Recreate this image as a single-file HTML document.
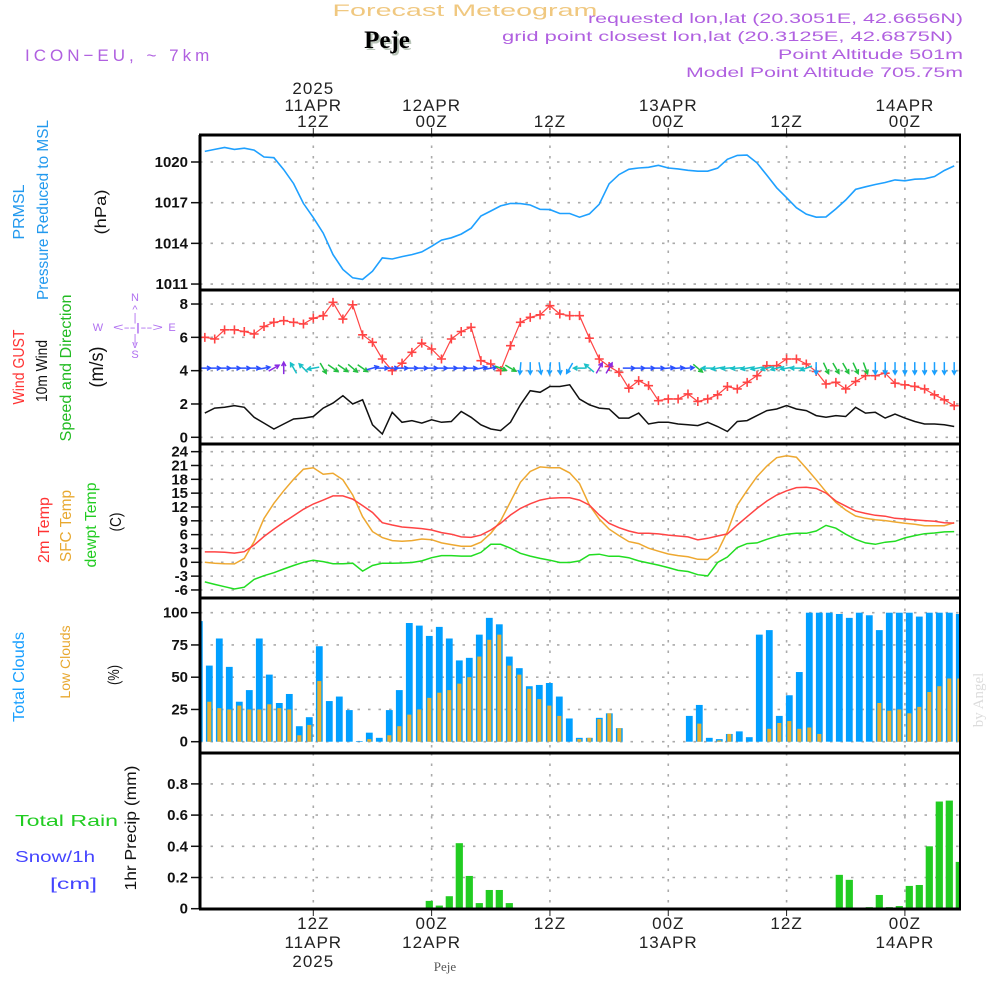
<!DOCTYPE html>
<html><head><meta charset="utf-8">
<style>
html,body{margin:0;padding:0;background:#fff;}
svg{display:block;font-family:"Liberation Sans",sans-serif;}
.tk{font-size:15px;font-weight:bold;fill:#111;text-anchor:end;}
.tl{font-size:17px;fill:#222;text-anchor:middle;letter-spacing:1px;}
.rl{font-size:16px;text-anchor:middle;}
</style></head>
<body>
<svg id="chart" width="1000" height="1000" viewBox="0 0 1000 1000">
<defs>
<clipPath id="plotclip"><rect x="201" y="135" width="758" height="775"/></clipPath>
</defs>
<text x="465" y="16" text-anchor="middle" font-size="17" fill="#f0c880" textLength="265" lengthAdjust="spacingAndGlyphs">Forecast Meteogram</text>
<text x="389" y="50" text-anchor="middle" font-family="Liberation Serif,serif" font-weight="bold" font-size="25" fill="#b8c4b8">Peje</text>
<text x="387" y="48" text-anchor="middle" font-family="Liberation Serif,serif" font-weight="bold" font-size="25" fill="#000">Peje</text>
<text x="25" y="61" font-size="17" fill="#b060e0" letter-spacing="4">ICON−EU, ~ 7km</text>
<g font-size="14" fill="#b060e0" text-anchor="end">
<text x="963" y="23" textLength="375" lengthAdjust="spacingAndGlyphs">requested lon,lat (20.3051E, 42.6656N)</text>
<text x="953" y="41" textLength="451" lengthAdjust="spacingAndGlyphs">grid point closest lon,lat (20.3125E, 42.6875N)</text>
<text x="963" y="59" textLength="185" lengthAdjust="spacingAndGlyphs">Point Altitude 501m</text>
<text x="963" y="77" textLength="277" lengthAdjust="spacingAndGlyphs">Model Point Altitude 705.75m</text>
</g>
<g class="rl">
<text transform="translate(24,212) rotate(-90)" fill="#2299ee" textLength="55" lengthAdjust="spacingAndGlyphs">PRMSL</text>
<text transform="translate(48,210) rotate(-90)" fill="#2299ee" textLength="180" lengthAdjust="spacingAndGlyphs">Pressure Reduced to MSL</text>
<text transform="translate(106,212) rotate(-90)" fill="#111" textLength="45" lengthAdjust="spacingAndGlyphs">(hPa)</text>
<text transform="translate(24,367) rotate(-90)" fill="#ff3333" textLength="75" lengthAdjust="spacingAndGlyphs">Wind GUST</text>
<text transform="translate(47,371) rotate(-90)" fill="#111" textLength="62" lengthAdjust="spacingAndGlyphs">10m Wind</text>
<text transform="translate(71,368) rotate(-90)" fill="#22bb22" textLength="147" lengthAdjust="spacingAndGlyphs">Speed and Direction</text>
<text transform="translate(103,367) rotate(-90)" fill="#111" font-size="19" textLength="41" lengthAdjust="spacingAndGlyphs">(m/s)</text>
<text transform="translate(49,530) rotate(-90)" fill="#ff3333" textLength="66" lengthAdjust="spacingAndGlyphs">2m Temp</text>
<text transform="translate(71,526) rotate(-90)" fill="#e8a830" textLength="72" lengthAdjust="spacingAndGlyphs">SFC Temp</text>
<text transform="translate(96,525) rotate(-90)" fill="#22cc22" textLength="85" lengthAdjust="spacingAndGlyphs">dewpt Temp</text>
<text transform="translate(121,522) rotate(-90)" fill="#111" textLength="19" lengthAdjust="spacingAndGlyphs">(C)</text>
<text transform="translate(24,677) rotate(-90)" fill="#1aa0ff" textLength="90" lengthAdjust="spacingAndGlyphs">Total Clouds</text>
<text transform="translate(70,662) rotate(-90)" fill="#e8a830" style="font-size:14px">Low Clouds</text>
<text transform="translate(119,675) rotate(-90)" fill="#111" textLength="20" lengthAdjust="spacingAndGlyphs">(%)</text>
<text transform="translate(136,828) rotate(-90)" fill="#111" textLength="125" lengthAdjust="spacingAndGlyphs">1hr Precip (mm)</text>
</g>
<text x="15" y="826" font-size="16" fill="#22cc22" textLength="103" lengthAdjust="spacingAndGlyphs">Total  Rain</text>
<text x="15" y="862" font-size="16" fill="#4444ff" textLength="80" lengthAdjust="spacingAndGlyphs">Snow/1h</text>
<text x="50" y="889" font-size="16" fill="#4444ff" textLength="47" lengthAdjust="spacingAndGlyphs">[cm]</text>
<g font-size="11" fill="#b070f0" text-anchor="middle">
<text x="135" y="301">N</text><text x="135" y="313">^</text><text x="135" y="321">|</text>
<text x="98" y="331">W</text><text x="138" y="331" textLength="50" lengthAdjust="spacingAndGlyphs">&lt;--|--&gt;</text><text x="172" y="331">E</text>
<text x="135" y="342">|</text><text x="135" y="348">v</text><text x="135" y="358">S</text>
</g>
<text transform="translate(983,700) rotate(-90)" text-anchor="middle" font-family="Liberation Serif,serif" font-size="15" fill="#dcdcdc">by Angel</text>
<text x="445" y="971" text-anchor="middle" font-family="Liberation Serif,serif" font-size="13" fill="#555">Peje</text>
<g id="dyn"></g>
</svg>
<script>
const startHour = -11;
const pressure = [1020.78,1020.93,1021.07,1020.93,1021.02,1020.88,1020.37,1020.32,1019.44,1018.41,1016.95,1015.9,1014.76,1013.17,1012.07,1011.46,1011.34,1011.95,1012.93,1012.85,1013.02,1013.17,1013.37,1013.78,1014.24,1014.41,1014.68,1015.12,1016.02,1016.39,1016.76,1016.95,1016.93,1016.83,1016.51,1016.49,1016.2,1016.2,1015.93,1016.17,1016.88,1018.39,1019.07,1019.46,1019.56,1019.61,1019.76,1019.56,1019.49,1019.39,1019.32,1019.32,1019.54,1020.2,1020.49,1020.51,1019.93,1019.02,1018.1,1017.37,1016.63,1016.15,1015.93,1015.95,1016.54,1017.2,1017.98,1018.17,1018.34,1018.49,1018.68,1018.61,1018.73,1018.76,1018.93,1019.37,1019.71];
const gust = [6.0,5.9,6.45,6.45,6.35,6.2,6.65,6.9,7.0,6.9,6.8,7.15,7.3,8.1,7.1,7.95,6.15,5.7,4.7,4.0,4.45,5.1,5.65,5.3,4.7,5.9,6.35,6.6,4.6,4.4,4.0,5.5,6.9,7.2,7.35,7.9,7.4,7.3,7.3,5.95,4.7,4.25,3.9,2.95,3.4,3.1,2.2,2.3,2.3,2.6,2.15,2.3,2.55,3.05,2.9,3.3,3.7,4.3,4.3,4.7,4.7,4.4,3.95,3.2,3.3,2.9,3.35,3.7,3.7,3.85,3.25,3.15,3.05,2.9,2.55,2.25,1.9];
const windSpeed = [1.45,1.75,1.8,1.9,1.8,1.2,0.85,0.5,0.8,1.1,1.15,1.25,1.75,2.05,2.5,2.0,2.25,0.75,0.2,1.5,0.9,1.0,0.85,1.05,0.9,0.95,1.55,1.2,0.75,0.5,0.4,0.9,1.95,2.8,2.7,3.05,3.05,3.15,2.3,1.95,1.75,1.7,1.15,1.15,1.45,0.8,0.9,0.9,0.8,0.75,0.7,0.9,0.65,0.35,0.95,1.0,1.3,1.6,1.7,1.9,1.7,1.6,1.3,1.2,1.3,1.25,1.8,1.45,1.5,1.15,1.4,1.15,0.95,0.8,0.8,0.75,0.65];
const windDir = [0,0,0,0,0,0,-10,-30,-90,-120,-135,170,60,35,35,40,35,-15,0,0,0,0,0,0,0,0,0,0,-10,-10,20,30,95,90,80,95,85,120,180,-140,-60,-60,null,0,0,0,0,-5,-5,-5,40,180,170,175,175,170,170,165,165,170,180,160,90,65,60,60,65,70,90,90,90,90,90,90,90,90,90];
const temp2m = [2.25,2.25,2.2,2.0,2.3,3.75,5.6,7.2,8.7,10.1,11.5,12.65,13.5,14.4,14.4,13.7,12.3,10.8,8.6,8.1,7.65,7.5,7.3,7.0,6.45,6.1,5.5,5.4,5.9,7.0,8.45,10.25,11.7,12.7,13.5,13.9,14.0,14.0,13.5,12.4,10.25,8.45,7.5,6.8,6.3,6.3,6.15,5.9,5.7,5.5,4.85,5.2,5.7,6.15,8.1,9.9,11.7,13.3,14.6,15.5,16.2,16.3,16.0,15.0,13.3,12.2,11.1,10.6,10.2,10.0,9.55,9.4,9.2,9.05,8.9,8.6,8.5];
const tempSfc = [0,-0.2,-0.3,-0.35,0.85,4.5,9.5,12.8,15.5,18,20.2,20.5,19.1,19.3,17.9,14.6,9.9,6.65,5.35,4.7,4.55,4.7,5.05,4.9,4.2,3.85,3.5,3.5,4.35,6.3,9.0,13.15,17.35,19.7,20.7,20.5,20.5,19.4,17.1,12.4,9.4,7.2,5.8,4.5,4.05,3.05,2.4,1.8,1.45,1.2,0.65,0.6,2.3,6.65,12.4,15.6,18.6,20.9,22.7,23.1,22.8,20.4,17.9,15.3,13.0,11.35,10.05,9.55,9.25,9.05,8.75,8.45,8.25,7.95,7.95,7.95,8.6];
const dewpt = [-4.25,-4.8,-5.3,-5.8,-5.4,-3.7,-2.9,-2.25,-1.45,-0.7,0,0.45,0.15,-0.3,-0.3,-0.2,-1.9,-0.7,-0.2,-0.2,-0.15,-0.05,0.3,1.0,1.45,1.45,1.35,1.35,2.15,3.9,3.9,3.05,1.95,1.35,0.85,0.45,-0.05,-0.05,0.3,1.6,1.75,1.3,1.3,1.0,0.3,-0.15,-0.6,-1.15,-1.75,-2.0,-2.7,-2.95,-0.05,1.15,3.2,4.05,4.2,5.0,5.65,6.1,6.3,6.3,6.8,8.0,7.4,6.1,5.0,4.2,3.9,4.35,4.55,5.3,5.8,6.2,6.35,6.6,6.65];
const totalClouds = [93.5,59,80,58,31,40,80,52,30,37,12,19,74,31.5,35,24.5,0.5,7,3,24.5,40,92,90,82,89,80,63,65,83,96,91,66,57,43,44,45.5,35,18,3,3,18.5,22,10.5,0,0,0,0,0,0,20,28.5,3,2,6,8,3.5,83,86.5,20,36,54,100,100,100,99,96,100,98,86.5,100,100,100,97,100,100,100,99];
const lowClouds = [32,31,26,25,28,25,25,29,26,25,5,13,47,0,0,0,0,2,0,5,12,21,25,34,38,40,45,50,66,79,83,59,52,41,33,28,20,0,2,3,17.5,22,10.5,0,0,0,0,0,0,0,14,0,1,6,0,0,0,10,14.5,16,10,11,6,0,0,0,0,0,30,24,25,22,27,38.5,43,49,49];
const precip = [0,0,0,0,0,0,0,0,0,0,0,0,0,0,0,0,0,0,0,0,0,0,0,0.05,0.02,0.08,0.42,0.21,0.036,0.12,0.12,0.036,0,0,0,0,0,0,0,0,0,0,0,0,0,0,0,0,0,0,0,0,0,0,0,0,0,0,0,0,0,0,0,0,0.217,0.185,0,0.01,0.088,0.01,0.017,0.146,0.152,0.40,0.687,0.693,0.30];
const timeTicks = [0,12,24,36,48,60];
const tickHourLabels = ["12Z","00Z","12Z","00Z","12Z","00Z"];
const tickDateLabels = ["11APR","12APR","","13APR","","14APR"];
const tickYearLabels = ["2025","","","","",""];
const pTicks = [1011,1014,1017,1020];
const wTicks = [0,2,4,6,8];
const tTicks = [-6,-3,0,3,6,9,12,15,18,21,24];
const cTicks = [0,25,50,75,100];
const rTicks = [0,0.2,0.4,0.6,0.8];
const rTickLabels = ["0","0.2","0.4","0.6","0.8"];

const X0 = 200, X1 = 960;
function xOf(h){ return 313.3 + 9.86*h; }
function barX(i){ return 199.3 + 10*i; }
function yP(v){ return 162 + (1020 - v)*13.56; }
function yW(v){ return 437.3 - v*16.66; }
function yT(v){ return 562.3 - v*4.61; }
function yC(v){ return 741.7 - v*1.29; }
function yR(v){ return 908.7 - v*156; }

const NS = "http://www.w3.org/2000/svg";
const dyn = document.getElementById('dyn');
function el(tag, attrs, parent){
  const e = document.createElementNS(NS, tag);
  for (const k in attrs) e.setAttribute(k, attrs[k]);
  (parent||dyn).appendChild(e);
  return e;
}
const panels = [
  {name:'pressure', top:135, bot:290, ticks:pTicks, y:yP, labels:pTicks.map(String)},
  {name:'wind', top:290, bot:444, ticks:wTicks, y:yW, labels:wTicks.map(String)},
  {name:'temperature', top:444, bot:598, ticks:tTicks, y:yT, labels:tTicks.map(String)},
  {name:'clouds', top:598, bot:753, ticks:cTicks, y:yC, labels:cTicks.map(String)},
  {name:'precip', top:753, bot:909, ticks:rTicks, y:yR, labels:rTickLabels}
];
panels.forEach(p=>{
  const g = el('g', {});
  
  
  p.ticks.forEach((t,k)=>{
    const yy = p.y(t);
    const gl = el('line',{x1:X0,x2:X1,y1:yy,y2:yy,stroke:'#aaa','stroke-width':1.6,'stroke-dasharray':'2.5 8'},g);
    
    
    el('line',{x1:191,x2:X0,y1:yy,y2:yy,stroke:'#111','stroke-width':1.5},g);
    const tx = el('text',{x:188,y:yy+5,class:'tk'},g);
    tx.textContent = p.labels[k];
    
    
  });
  timeTicks.forEach(h=>{
    const xx = xOf(h);
    el('line',{x1:xx,x2:xx,y1:p.top,y2:p.bot,stroke:'#aaa','stroke-width':1.6,'stroke-dasharray':'2.5 8'},g);
  });
});
timeTicks.forEach((h,k)=>{
  const xx = xOf(h);
  el('line',{x1:xx,x2:xx,y1:128,y2:135,stroke:'#222','stroke-width':1});
  el('line',{x1:xx,x2:xx,y1:909,y2:916,stroke:'#222','stroke-width':1});
  const t1 = el('text',{x:xx,y:127,class:'tl'}); t1.textContent = tickHourLabels[k];
  
  
  if (tickDateLabels[k]) { const t = el('text',{x:xx,y:111,class:'tl'}); t.textContent = tickDateLabels[k];
    
     }
  if (tickYearLabels[k]) { const t = el('text',{x:xx,y:94,class:'tl'}); t.textContent = tickYearLabels[k];
    
     }
  const b1 = el('text',{x:xx,y:929,class:'tl'}); b1.textContent = tickHourLabels[k];
  
  
  if (tickDateLabels[k]) { const t = el('text',{x:xx,y:948,class:'tl'}); t.textContent = tickDateLabels[k];
    
     }
  if (tickYearLabels[k]) { const t = el('text',{x:xx,y:967,class:'tl'}); t.textContent = tickYearLabels[k];
    
     }
});

const plot = el('g',{'clip-path':'url(#plotclip)'});
function linePath(arr, yf){
  return arr.map((v,i)=> (i?'L':'M') + xOf(startHour+i).toFixed(1) + ',' + yf(v).toFixed(1)).join(' ');
}
const pl = el('path',{d:linePath(pressure,yP),fill:'none',stroke:'#1ea0ff','stroke-width':1.6},plot);


const wl = el('path',{d:linePath(windSpeed,yW),fill:'none',stroke:'#111','stroke-width':1.5},plot);


const gl = el('path',{d:linePath(gust,yW),fill:'none',stroke:'#ff4444','stroke-width':1.2},plot);


gust.forEach((v,i)=>{
  const xx = xOf(startHour+i), yy = yW(v);
  const m = el('path',{d:`M${xx-4.5},${yy}H${xx+4.5}M${xx},${yy-4.5}V${yy+4.5}`,stroke:'#ff4444','stroke-width':1.6},plot);
  
  
});
function arrowColor(a){
  if (a >= -15 && a <= 15) return '#2a50ff';
  if (a < -15 && a >= -100) return '#8a2be2';
  if (a > 15 && a < 75) return '#22c040';
  if (a >= 75 && a <= 150) return '#1aa0ff';
  return '#19c0c8';
}
windDir.forEach((a,i)=>{
  if (a === null) return;
  const cx = xOf(startHour+i), cy = yW(4.15);
  const r = a*Math.PI/180, L = 6;
  const x1 = cx - Math.cos(r)*L, y1 = cy - Math.sin(r)*L;
  const x2 = cx + Math.cos(r)*L, y2 = cy + Math.sin(r)*L;
  const h1 = r + Math.PI - 0.5, h2 = r + Math.PI + 0.5;
  const c = arrowColor(a);
  const ar = el('path',{d:`M${x1},${y1}L${x2},${y2}M${x2+Math.cos(h1)*4.5},${y2+Math.sin(h1)*4.5}L${x2},${y2}L${x2+Math.cos(h2)*4.5},${y2+Math.sin(h2)*4.5}`,stroke:c,'stroke-width':1.5,fill:'none'},plot);
  
  
});
const sl = el('path',{d:linePath(tempSfc,yT),fill:'none',stroke:'#eea830','stroke-width':1.5},plot);


const tl = el('path',{d:linePath(temp2m,yT),fill:'none',stroke:'#ff4444','stroke-width':1.5},plot);


const dl = el('path',{d:linePath(dewpt,yT),fill:'none',stroke:'#22dd22','stroke-width':1.5},plot);


totalClouds.forEach((v,i)=>{
  const cx = barX(i);
  if (v > 0) {
    const b = el('rect',{x:cx-3.4,y:yC(v),width:6.8,height:yC(0)-yC(v),fill:'#009fff'},plot);
    
    
  }
  const lv = lowClouds[i];
  if (lv > 0) {
    const o = el('rect',{x:cx-2,y:yC(lv),width:4,height:yC(0)-yC(lv),fill:'#e8b030'},plot);
    
    
  }
});
el('line',{x1:X0,x2:X1,y1:yR(0),y2:yR(0),stroke:'#333','stroke-width':1.5,'stroke-dasharray':'6 3'},plot);
precip.forEach((v,i)=>{
  if (v <= 0) return;
  const cx = barX(i);
  const b = el('rect',{x:cx-3.6,y:yR(v),width:7.2,height:yR(0)-yR(v),fill:'#22cc22'},plot);
  
  
});
[135,290,444,598,753,909].forEach(yy=>{
  const f = el('line',{x1:X0-1,x2:X1+1,y1:yy,y2:yy,stroke:'#000','stroke-width':3});
  
  
});
el('line',{x1:X0,x2:X0,y1:135,y2:909,stroke:'#000','stroke-width':3});
el('line',{x1:X1,x2:X1,y1:135,y2:909,stroke:'#000','stroke-width':2});
</script>
</body></html>
